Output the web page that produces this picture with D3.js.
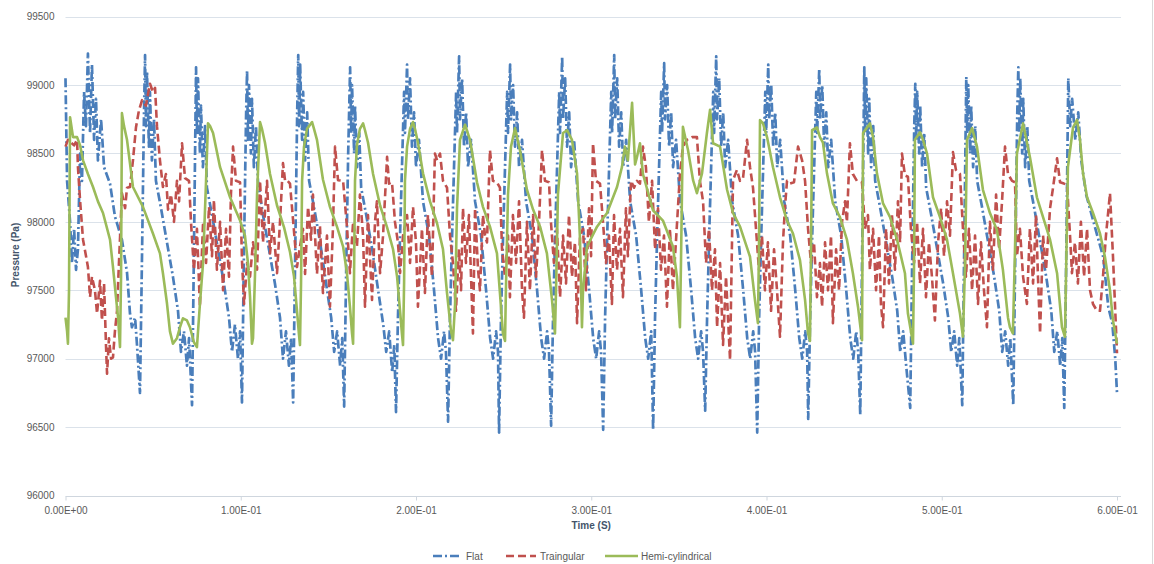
<!DOCTYPE html>
<html>
<head>
<meta charset="utf-8">
<script src="https://cdn.jsdelivr.net/npm/d3@7/dist/d3.min.js"></script>
<style>
  html, body { margin: 0; padding: 0; background: #ffffff; }
  svg { display: block; font-family: "Liberation Sans", Arial, sans-serif; }
</style>
</head>
<body>
<svg id="chart" width="1154" height="564"></svg>
<script>
// ---------- data (time in ms, pressure in Pa) ----------
const yTickValues = [96000, 96500, 97000, 97500, 98000, 98500, 99000, 99500];
const xTickValues = [0, 0.1, 0.2, 0.3, 0.4, 0.5, 0.6];
const xTickLabels = ["0.00E+00", "1.00E-01", "2.00E-01", "3.00E-01", "4.00E-01", "5.00E-01", "6.00E-01"];
const seriesNames = ["Flat", "Traingular", "Hemi-cylindrical"];

const flatTime = [
  0,0.3,0.9,2.6,3.7,4.9,6.0,7.1,8.3,9.4,10.6,11.7,12.8,14.0,15.1,16.3,17.4,18.5,20.3,22.0,25.4,28.2,32.2,35.1,36.8,37.9,39.7,40.8,
  42.5,43.6,44.8,45.4,45.9,46.5,47.6,48.2,49.3,50.5,51.6,54.5,57.9,61.3,64.2,65.9,67.6,69.3,70.5,
  72.2,73.3,74.5,75.0,75.6,76.7,77.3,78.4,79.6,80.7,83.6,87.0,90.4,93.3,95.0,96.7,98.4,99.6,
  100.7,101.8,103.0,103.6,104.1,104.7,105.8,106.4,107.5,108.7,109.8,112.7,116.1,119.5,122.4,124.1,125.8,127.5,128.7,
  129.9,131.0,132.2,132.8,133.3,133.9,135.0,135.6,136.7,137.9,139.0,141.9,145.3,148.7,151.6,153.3,155.0,156.7,157.9,
  159.0,160.1,161.3,162.4,163.0,163.5,164.7,165.2,166.4,167.6,168.7,171.6,175.0,178.4,181.3,183.0,184.7,186.4,187.6,
  188.6,189.7,190.9,192.0,193.2,193.7,194.9,195.4,196.6,197.7,198.9,200.0,201.7,204.0,207.4,210.3,212.6,214.3,216.0,217.1,
  218.3,219.4,220.6,221.7,222.9,223.4,224.6,225.1,226.3,227.4,228.6,229.7,231.4,233.7,237.1,240.0,242.3,244.0,245.7,246.8,
  247.4,248.5,249.7,250.8,252.0,252.5,253.7,254.2,255.4,256.5,257.7,258.8,260.5,262.8,266.2,269.1,271.4,273.1,274.8,275.9,
  277.1,278.2,279.4,280.5,281.7,282.2,283.4,283.9,285.1,286.2,287.4,288.5,290.2,292.5,295.9,298.8,301.1,302.8,304.5,305.6,
  306.8,307.9,309.1,310.2,311.4,311.9,313.1,313.6,314.8,315.9,317.1,318.2,319.9,322.2,325.6,328.5,330.8,332.5,334.2,
  335.3,336.4,337.6,338.7,339.9,340.4,341.6,342.1,343.3,344.4,345.6,346.7,348.4,350.7,354.1,357.0,359.3,361.0,362.7,363.8,
  365.0,366.1,367.3,368.4,369.6,370.1,371.3,371.8,373.0,374.1,375.3,376.4,378.1,380.4,383.8,386.7,389.0,390.7,392.4,393.5,
  394.7,395.8,397.0,398.1,399.3,399.8,401.0,401.5,402.7,403.8,405.0,406.1,407.8,410.1,413.5,416.4,418.7,420.4,422.1,423.2,
  423.8,424.9,426.1,427.2,428.4,428.9,430.1,430.6,431.8,432.9,434.1,435.2,436.9,439.2,442.6,445.5,447.8,449.5,451.2,452.3,
  453.5,454.6,455.8,456.3,456.9,458.0,458.6,459.7,460.9,462.0,464.9,468.3,471.7,474.6,476.3,478.0,479.7,
  482.0,483.1,484.3,484.9,485.4,486.0,487.1,487.7,488.8,490.0,491.1,494.0,497.4,500.8,503.7,505.4,507.1,508.8,510.0,
  511.7,512.8,514.0,514.5,515.1,516.2,516.8,517.9,519.1,520.2,523.1,526.5,529.9,532.8,534.5,536.2,537.9,539.1,
  540.8,541.9,543.1,543.7,544.2,544.8,545.9,546.5,547.6,548.8,549.9,552.8,556.2,559.6,562.5,564.2,565.9,567.6,568.8,
  569.9,571.0,572.2,573.3,574.4,576.2,577.9,579.6,582.4,586.4,592.2,595.0,597.3,599.0,600
];
const flatPressure = [
  99050,98800,98300,98000,97700,97950,97650,97800,98500,98300,98950,98700,99230,98650,99150,98600,98900,98450,98750,98400,98280,98040,97870,97630,97330,97230,97300,97100,
  96750,97700,98800,99220,98700,99100,98550,98950,98450,98750,98300,98100,97850,97600,97350,97050,97200,96950,97150,
  96660,97800,99130,98650,99050,98500,98850,98400,98700,98250,98050,97800,97550,97300,97050,97250,97000,97200,
  96680,97750,98750,99110,98600,99000,98500,98900,98400,98700,98300,98050,97800,97550,97300,97000,97200,96950,97150,
  96680,97700,98800,99220,98700,99150,98600,98950,98450,98800,98300,98100,97850,97550,97300,97050,97200,96950,97150,
  96650,97600,98500,99130,98650,99000,98500,98850,98400,98650,98250,98050,97800,97500,97250,97050,97200,96900,97100,
  96610,97300,97900,98400,98950,98650,99150,98750,99050,98550,98800,98400,98600,98150,97900,97500,97150,97000,97200,97050,
  96540,97300,97900,98400,98950,98650,99210,98750,99050,98550,98800,98400,98600,98150,97900,97500,97150,97000,97200,97050,
  96460,97300,97900,98400,98950,98650,99150,98750,99000,98550,98800,98400,98600,98150,97900,97500,97150,97000,97200,97050,
  96510,97300,97900,98400,98950,98650,99210,98750,99050,98550,98800,98400,98600,98150,97900,97500,97150,97000,97200,97050,
  96480,97300,97900,98400,98950,98650,99220,98750,99050,98550,98800,98400,98600,98150,97900,97500,97150,97000,97200,
  96480,97300,97900,98400,98950,98650,99160,98750,99000,98550,98800,98400,98600,98150,97900,97500,97150,97000,97200,97050,
  96620,97300,97900,98400,98950,98650,99210,98750,99050,98550,98800,98400,98600,98150,97900,97500,97150,97000,97200,97050,
  96460,97300,97900,98400,98950,98650,99150,98750,99000,98550,98800,98400,98600,98150,97900,97500,97150,97000,97200,97050,
  96560,97300,97900,98400,98950,98650,99120,98750,99000,98550,98800,98400,98600,98150,97900,97500,97150,97000,97200,97050,
  96590,97800,99130,98650,99050,98500,98900,98400,98700,98300,98100,97850,97600,97350,97050,97200,96950,
  96640,97700,98700,99010,98600,98950,98500,98850,98400,98650,98250,98050,97800,97550,97300,97050,97200,96950,97150,
  96660,97800,99060,98650,99000,98500,98850,98400,98700,98300,98100,97850,97600,97350,97050,97200,96950,97150,
  96660,97700,98800,99130,98650,99050,98500,98900,98400,98700,98300,98100,97850,97600,97350,97050,97200,96950,97150,
  96640,97700,99050,98700,98900,98600,98800,98450,98200,98010,97740,97380,97260,97000,96750
];

const triTime = [
  0,1.4,3.1,4.9,6.6,7.1,8.3,10.0,11.7,12.8,14.0,15.1,16.8,18.0,19.7,20.8,22.0,23.1,23.7,24.8,26.0,27.1,28.2,29.4,30.5,32.2,34.0,35.1,36.8,38.5,40.2,41.9,43.7,45.9,48.2,49.9,51.1,52.2,53.9,55.6,57.3,58.5,60.2,61.9,63.6,64.8,
  66.5,68.2,70.5,71.6,73.3,75.0,76.7,78.5,80.2,81.9,83.6,84.7,86.4,88.2,89.9,91.6,93.3,94.4,
  95.6,97.3,99.6,100.7,101.9,103.6,105.3,107.0,109.3,111.0,112.7,115.0,116.7,118.4,120.7,122.4,
  124.1,125.3,126.4,128.1,129.8,132.1,133.8,135.5,136.7,138.4,140.1,141.2,143.5,145.2,146.9,149.2,150.9,152.6,
  153.8,155.5,158.4,160.6,162.3,164.1,166.3,168.0,169.8,170.9,172.6,174.9,176.6,177.7,179.5,181.2,
  183.5,184.6,186.3,188.0,189.7,190.9,192.6,194.9,196.6,198.3,200.0,201.1,203.4,205.1,206.8,209.1,
  210.8,212.0,213.7,215.4,217.7,219.4,221.1,222.8,224.5,225.7,226.8,228.5,230.2,231.4,232.5,233.7,235.4,236.5,238.2,239.4,240.5,
  242.2,243.9,246.2,247.9,249.1,250.8,252.5,253.6,255.3,257.1,258.8,260.5,261.6,263.3,265.0,266.8,268.5,270.2,
  271.9,273.6,275.9,277.0,278.7,280.4,282.2,283.9,285.6,287.3,289.0,290.7,291.9,293.6,295.3,297.0,298.7,299.9,
  301.0,302.7,305.0,306.7,308.4,310.1,311.8,313.0,314.7,316.4,318.1,319.8,320.9,322.7,324.4,326.1,327.8,
  329.5,331.2,332.9,334.7,336.4,338.1,339.8,341.5,343.2,344.9,346.6,348.3,350.6,352.3,354.6,357.5,
  360.3,362.0,363.8,365.5,367.2,368.9,370.6,371.8,373.5,375.2,376.9,379.2,380.9,383.1,384.9,386.6,
  388.9,390.6,392.3,394.0,395.7,397.4,399.1,400.8,402.6,404.3,406.0,407.7,409.4,410.5,411.7,413.4,415.7,
  418.0,420.3,422.0,423.7,425.4,427.1,428.8,430.5,431.7,433.4,435.1,436.8,437.9,439.7,441.4,443.1,444.8,445.9,
  447.6,449.3,451.6,454.5,456.2,457.9,459.0,460.8,462.5,464.2,465.3,466.5,468.2,469.9,471.6,473.3,475.0,476.2,
  477.3,479.0,480.7,482.4,484.2,485.9,487.6,489.3,491.0,492.7,494.4,496.1,497.9,499.6,501.3,503.0,504.7,
  506.4,508.1,510.4,512.1,513.8,515.5,517.3,519.0,520.7,522.4,524.1,525.8,527.5,529.2,531.0,532.7,534.4,
  536.1,537.8,540.1,541.8,542.9,544.6,546.4,548.6,550.3,552.1,553.8,554.9,556.1,557.8,559.5,561.8,563.5,
  565.8,567.5,569.7,571.5,573.2,574.3,576.0,577.7,579.4,581.2,582.9,584.6,586.3,588.6,590.3,592.0,593.7,596.0,597.7,600
];
const triPressure = [
  98550,98600,98580,98560,98600,98400,98160,97870,97750,97670,97450,97600,97500,97330,97570,97280,97550,97100,96890,97150,97000,97010,97200,97350,97700,98210,98100,98250,98255,98450,98690,98815,98890,98850,99010,98950,98980,98700,98450,98255,98350,98090,98200,98000,98300,98150,
  98575,98320,98300,98000,97650,97950,97380,98000,97700,98110,97750,98160,97650,98000,97500,97950,97600,98200,
  98550,98300,98290,97720,97400,97700,97600,97850,97650,98300,97850,98300,97770,98000,97625,98000,
  98430,98300,98305,98280,98020,97670,97820,97950,97620,98110,97870,98200,97620,97970,97480,97900,97380,97950,
  98550,98305,98300,97965,97625,98000,97820,98200,97900,97380,98050,97430,98000,98150,97625,97900,
  98475,98280,98290,98000,97850,97625,97900,98050,97700,98110,97850,97380,97950,97480,98050,97600,
  98500,98450,98500,98300,98250,97900,97700,97350,97800,97500,98100,97700,98050,97600,97185,98100,97650,97500,98050,97900,97850,
  98525,98300,98290,98250,97800,97600,97900,97450,98050,97700,98150,97500,97300,98000,97500,98050,97600,98000,
  98525,98300,98290,98000,97700,97950,97450,97900,97550,98050,97600,97850,97260,97900,97950,97500,98100,97750,
  98575,98300,98280,98000,97700,97900,97400,98050,97650,97950,97450,98100,97750,98300,98250,98300,98280,
  98550,98400,98000,98300,97800,98100,97650,97900,97380,97950,97500,97850,98350,98550,98600,98620,
  98620,98300,98150,97700,97950,97500,97800,97230,97700,97100,97600,96990,98305,98380,98300,98320,
  98600,98400,98250,97950,97650,97900,97500,97850,97350,97800,97500,97160,97850,98100,98300,98280,98290,
  98550,98450,98300,97950,97700,97850,97450,97700,97380,97850,97500,97900,97260,97800,97500,98000,98150,98000,
  98575,98350,98300,98290,97950,98050,97650,97950,97500,97900,97400,97230,97950,97550,98050,97650,98150,97850,
  98500,98340,98330,97950,97700,98000,97550,97950,97450,97850,97600,97280,97850,98100,97750,98150,97900,
  98510,98380,98350,97950,97600,97950,97500,97900,97400,97850,97500,97230,98000,97650,98200,97800,98150,
  98550,98350,98300,98290,97750,97950,97600,97400,97950,97550,98050,97600,97185,97900,97650,98100,98250,
  98465,98290,98280,98270,97900,97625,97850,97550,98000,97600,97950,97500,97400,97350,97350,97600,97900,98210,97750,97040
];

const hemiTime = [
  0,0.9,1.4,2.0,2.6,4.3,6.6,8.3,10.0,12.8,15.7,18.5,21.4,25.4,27.1,28.8,30.0,31.1,31.7,32.2,33.4,35.1,38.5,44.2,49.9,53.9,55.6,57.9,59.6,61.3,63.6,65.3,67.0,69.3,71.0,73.3,75.0,
  76.7,78.5,80.2,81.3,82.5,84.2,88.2,93.9,99.6,102.4,104.1,105.3,106.4,107.0,108.1,109.3,
  111.0,112.1,113.8,116.7,120.7,124.7,128.1,130.4,132.1,133.2,133.8,134.4,135.0,136.1,137.8,
  140.7,141.8,143.5,146.9,150.9,154.9,158.4,160.6,162.3,163.5,164.1,164.6,165.2,166.3,168.0,
  169.8,170.9,172.6,175.5,179.5,183.5,186.9,189.2,190.9,192.0,192.6,193.2,193.7,194.9,196.6,
  198.3,199.4,201.1,204.0,208.0,212.0,215.4,217.7,220.0,221.1,222.3,223.4,225.1,
  228.0,230.8,234.8,238.2,242.2,246.2,247.9,249.6,250.8,251.3,252.5,254.2,
  256.5,259.3,263.3,266.8,270.8,274.7,277.6,279.3,279.9,281.0,283.9,
  286.2,289.0,291.9,293.6,294.7,295.3,297.6,303.3,309.0,314.7,317.5,319.2,320.9,
  323.3,325.0,326.1,327.8,329.5,335.2,340.9,346.6,348.9,350.6,351.2,
  352.3,355.2,358.1,360.3,363.2,366.0,
  367.8,369.5,373.5,377.5,380.9,384.9,390.6,393.4,395.1,395.7,396.3,
  398.0,400.3,403.7,407.7,411.7,415.1,419.1,422.0,423.7,424.8,425.4,426.0,
  428.8,430.5,432.2,434.5,437.9,441.9,445.9,449.3,452.2,454.5,455.1,456.8,
  459.0,460.8,463.0,466.5,470.5,474.5,479.0,480.7,483.6,484.2,484.7,
  487.6,489.3,491.6,495.0,499.0,503.0,506.4,510.4,512.1,513.3,514.4,
  517.3,520.1,523.5,527.5,531.5,534.9,537.8,538.9,540.6,541.8,542.9,
  546.4,550.3,554.3,557.8,561.8,565.8,568.6,570.3,572.0,574.9,
  577.2,578.9,580.6,582.9,586.3,590.3,593.1,596.0,597.7,600
];
const hemiPressure = [
  97300,97200,97110,97500,98765,98620,98620,98560,98450,98350,98255,98150,98065,97870,97670,97450,97300,97085,97600,98795,98700,98600,98255,98110,97915,97770,97625,97405,97200,97110,97150,97230,97295,97280,97230,97120,97085,
  97400,97700,98300,98720,98700,98650,98400,98180,98010,97900,97700,97450,97110,97150,97600,98200,
  98730,98680,98580,98350,98120,97960,97780,97600,97350,97180,97100,97550,98300,98550,98680,
  98730,98680,98600,98310,98110,97965,97820,97625,97380,97185,97110,97550,98300,98560,98680,
  98720,98670,98580,98350,98120,97960,97800,97600,97350,97180,97100,97550,98300,98550,98680,
  98730,98680,98580,98355,98150,97990,97800,97480,97200,97135,97400,98100,98600,
  98710,98600,98290,98110,97965,97770,97480,97185,97130,97500,98200,98550,
  98685,98525,98235,98090,97965,97770,97430,97185,97500,98200,98650,
  98670,98600,98355,97870,97230,97500,97820,97965,98065,98255,98400,98550,98450,
  98870,98420,98475,98575,98350,98085,98010,97820,97600,97230,97700,
  98695,98525,98305,98210,98355,98650,
  98820,98575,98550,98235,98065,97965,97745,97430,97260,97800,98745,
  98720,98620,98400,98180,98010,97915,97720,97430,97185,97130,97800,98670,
  98690,98620,98580,98355,98135,98035,97870,97625,97380,97135,98650,98680,
  98720,98620,98355,98135,98035,97870,97625,97330,97110,97700,98600,
  98655,98600,98500,98180,98035,97870,97625,97330,97160,97700,98600,
  98685,98550,98235,98065,97940,97650,97300,97230,97185,97800,98500,
  98720,98475,98180,98035,97870,97625,97230,97160,98400,98690,
  98745,98600,98355,98180,98065,97915,97745,97500,97280,97110
];

// ---------- layout ----------
const svg = d3.select("#chart");
const W = 1154, H = 564;
const plot = { left: 65.5, right: 1117, top: 16.7, bottom: 495.5 };

const x = d3.scaleLinear().domain([0, 0.6]).range([plot.left, plot.right]);
const y = d3.scaleLinear().domain([96000, 99500]).range([plot.bottom, plot.top]);

svg.append("rect").attr("width", W).attr("height", H).attr("fill", "#ffffff");
// chart border on right edge
svg.append("line").attr("x1", 1152.5).attr("x2", 1152.5).attr("y1", 0).attr("y2", H)
  .attr("stroke", "#d9d9d9").attr("stroke-width", 1);

// horizontal gridlines
svg.append("g").selectAll("line")
  .data(yTickValues.filter(v => v !== 96000))
  .join("line")
  .attr("x1", plot.left).attr("x2", plot.right + 4)
  .attr("y1", d => Math.round(y(d)) + 0.5).attr("y2", d => Math.round(y(d)) + 0.5)
  .attr("stroke", "#dbe2ea").attr("stroke-width", 1);

// y axis labels
const yAxis = d3.axisLeft(y).tickValues(yTickValues).tickSize(0).tickPadding(0).tickFormat(d3.format("d"));
const gy = svg.append("g").attr("transform", `translate(${plot.left - 11},0)`).call(yAxis);
gy.select(".domain").remove();
gy.selectAll("text").attr("font-size", "10px").attr("fill", "#595959")
  .attr("font-family", "'Liberation Sans', Arial, sans-serif");

// x axis
const xAxis = d3.axisBottom(x).tickValues(xTickValues).tickSize(4).tickPadding(6)
  .tickFormat((d, i) => xTickLabels[i]);
const gx = svg.append("g").attr("transform", `translate(0,${Math.round(plot.bottom) + 0.5})`).call(xAxis);
gx.select(".domain").attr("stroke", "#cfd6de").attr("d", `M${plot.left},0H${plot.right + 4}`);
gx.selectAll(".tick line").attr("stroke", "#cfd6de");
gx.selectAll("text").attr("font-size", "10px").attr("fill", "#595959")
  .attr("font-family", "'Liberation Sans', Arial, sans-serif");

// axis titles
svg.append("text").attr("x", (plot.left + plot.right) / 2).attr("y", 529)
  .attr("text-anchor", "middle").attr("font-size", "10px").attr("font-weight", "bold")
  .attr("fill", "#44546a").text("Time (S)");
svg.append("text").attr("transform", "translate(19,255) rotate(-90)")
  .attr("text-anchor", "middle").attr("font-size", "10px").attr("font-weight", "bold")
  .attr("fill", "#44546a").text("Pressure (Pa)");

// clip
svg.append("clipPath").attr("id", "clip").append("rect")
  .attr("x", plot.left - 2).attr("y", plot.top - 10)
  .attr("width", plot.right - plot.left + 4).attr("height", plot.bottom - plot.top + 10);

const series = [
  { name: seriesNames[0], t: flatTime, p: flatPressure, color: "#4a7ebb", dash: "9,3,2,3", width: 2.7 },
  { name: seriesNames[1], t: triTime, p: triPressure, color: "#c0504d", dash: "8,4", width: 2.6 },
  { name: seriesNames[2], t: hemiTime, p: hemiPressure, color: "#9bbb59", dash: null, width: 2.6 }
];

const line = d3.line().x(d => x(d[0] / 1000)).y(d => y(d[1]));
const gLines = svg.append("g").attr("clip-path", "url(#clip)");
series.forEach(s => {
  const pts = s.t.map((t, i) => [t, s.p[i]]);
  gLines.append("path").datum(pts)
    .attr("fill", "none")
    .attr("stroke", s.color)
    .attr("stroke-width", s.width)
    .attr("stroke-linejoin", "round")
    .attr("stroke-dasharray", s.dash)
    .attr("d", line);
});

// legend
const legendItems = [
  { x1: 433, x2: 462, tx: 466 },
  { x1: 506, x2: 536, tx: 540 },
  { x1: 605, x2: 638, tx: 641 }
];
const lg = svg.append("g");
series.forEach((s, i) => {
  const it = legendItems[i];
  lg.append("line").attr("x1", it.x1).attr("x2", it.x2).attr("y1", 556).attr("y2", 556)
    .attr("stroke", s.color).attr("stroke-width", 2.6).attr("stroke-dasharray", s.dash);
  lg.append("text").attr("x", it.tx).attr("y", 559.5).attr("font-size", "10px")
    .attr("fill", "#595959").text(s.name);
});
</script>
</body>
</html>
